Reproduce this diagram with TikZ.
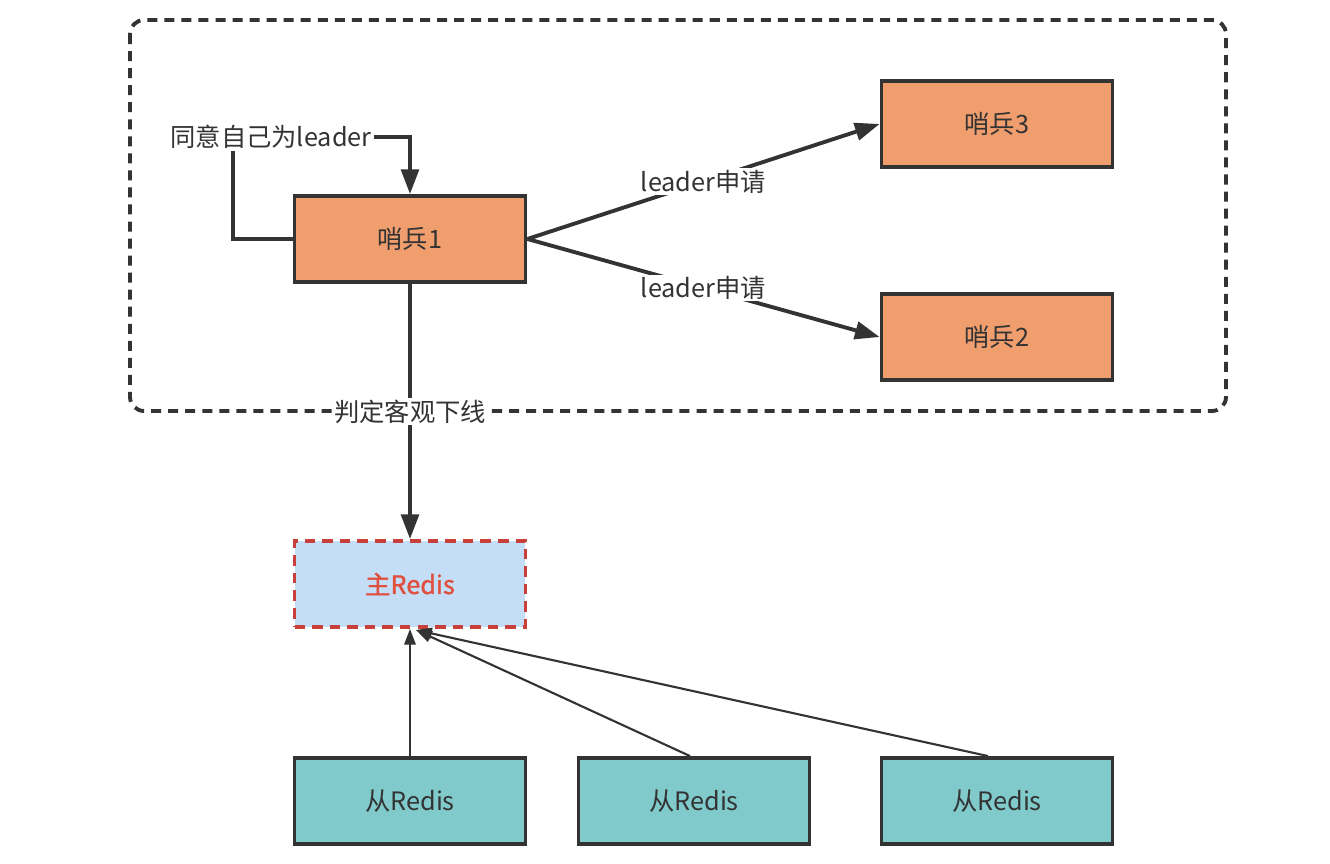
\documentclass[tikz,border=0pt]{standalone}
\usepackage{fontspec}
\setmainfont{Noto Sans CJK SC}
\newfontfamily\heavyfont{Noto Sans CJK SC}[FakeBold=1.2]
\usepackage{xcolor}
\usetikzlibrary{arrows.meta}

\definecolor{edgegray}{HTML}{333333}
\definecolor{sentinel}{HTML}{F19E6E}
\definecolor{masterfill}{HTML}{C4DEF7}
\definecolor{masterred}{HTML}{C9403A}
\definecolor{mastertext}{HTML}{E0503F}
\definecolor{slavefill}{HTML}{80CACC}

\tikzset{
    box/.style={draw=edgegray, line width=2.2pt, minimum width=4.62cm, minimum height=1.72cm, text=edgegray},
    sentbox/.style={box, fill=sentinel},
    slavebox/.style={box, fill=slavefill},
    masterbox/.style={box, fill=masterfill, draw=masterred, dash pattern=on 6pt off 4pt, text=mastertext, font=\fontsize{14.4pt}{16pt}\heavyfont},
    thickarrow/.style={draw=edgegray, line width=2.2pt, -{Triangle[length=14pt,width=10pt]}},
    thinarrow/.style={draw=edgegray, line width=1.2pt, -{Triangle[length=9pt,width=6.5pt]}},
    lbl/.style={fill=white, text=edgegray, inner sep=1pt}
}

\begin{document}
\begin{tikzpicture}[x=0.02cm, y=-0.02cm, font=\fontsize{14.4pt}{16pt}\selectfont]
    \useasboundingbox (0,0) rectangle (1330,864);
    % sentinel group
    \draw[edgegray, line width=2.2pt, rounded corners=8pt, dash pattern=on 5.7pt off 4pt] (130,20) rectangle (1226,411);

    \node[sentbox] (s1) at (410,239) {哨兵1};
    \node[sentbox] (s3) at (997,124) {哨兵3};
    \node[sentbox] (s2) at (997,337) {哨兵2};
    \node[masterbox] (master) at (410,584) {主Redis};
    \node[slavebox] (r1) at (410,801) {从Redis};
    \node[slavebox] (r2) at (694,801) {从Redis};
    \node[slavebox] (r3) at (997,801) {从Redis};

    % self vote
    \node[lbl] (agree) at (271,137) {同意自己为leader};
    \draw[edgegray, line width=2.2pt] (s1.west) -| ([xshift=-0.76cm]agree.south);
    \draw[thickarrow] (agree.east) -| (s1.north);

    \draw[thickarrow] (s1.east) -- (s3.west) node[lbl, midway] {leader申请};
    \draw[thickarrow] (s1.east) -- (s2.west) node[lbl, midway] {leader申请};
    \draw[thickarrow] (s1.south) -- (master.north) node[lbl, midway] {判定客观下线};

    % replicas
    \coordinate (tip) at (416,630);
    \draw[thinarrow] (r1.north) -- (master.south);
    \draw[thinarrow] (r2.north -| 690,0) -- (tip);
    \draw[thinarrow] (r3.north -| 988,0) -- (tip);
\end{tikzpicture}
\end{document}
